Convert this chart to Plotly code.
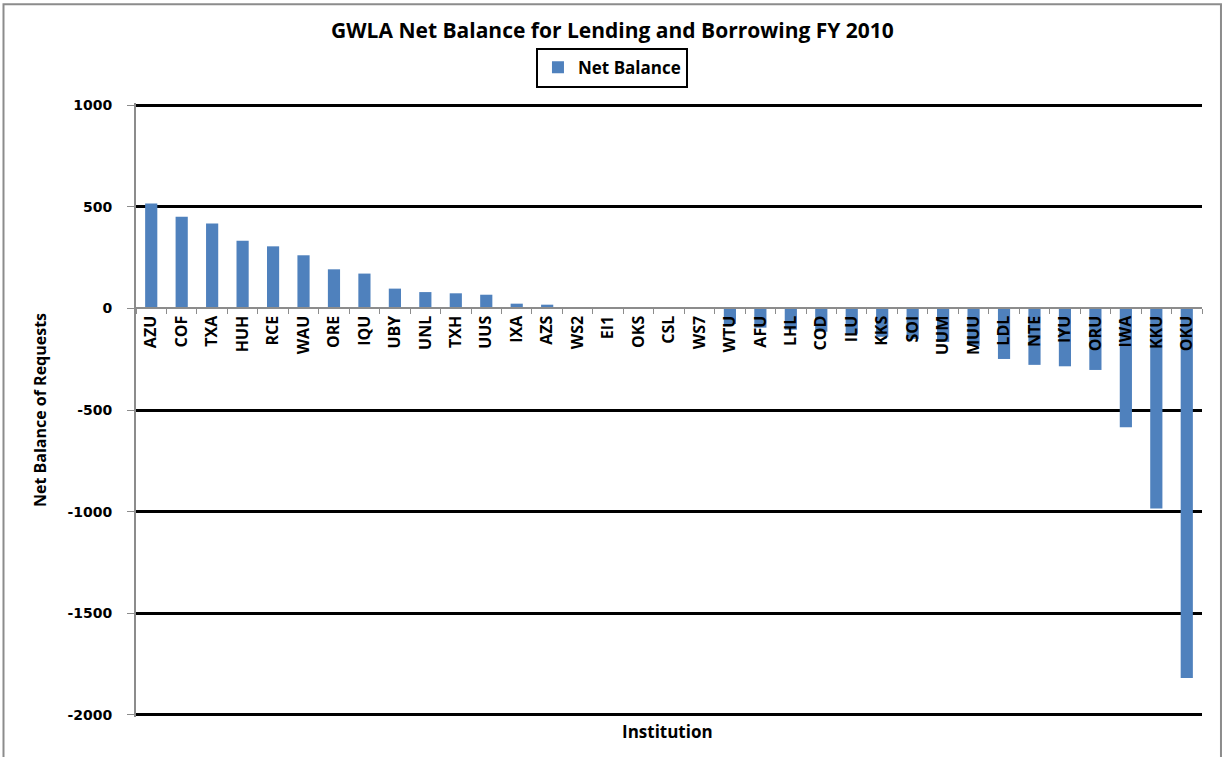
import plotly.graph_objects as go

# Net balance (lending minus borrowing) per institution, FY 2010
institutions = [
    'AZU', 'COF', 'TXA', 'HUH', 'RCE', 'WAU', 'ORE', 'IQU', 'UBY', 'UNL',
    'TXH', 'UUS', 'IXA', 'AZS', 'WS2', 'EI1', 'OKS', 'CSL', 'WS7', 'WTU',
    'AFU', 'LHL', 'COD', 'ILU', 'KKS', 'SOI', 'UUM', 'MUU', 'LDL', 'NTE',
    'IYU', 'ORU', 'IWA', 'KKU', 'OKU',
]
net_balance = [
    516, 451, 417, 333, 305, 261, 192, 171, 97, 80,
    74, 67, 23, 18, 6, 0, 0, 0, 0, -77,
    -95, -105, -115, -125, -140, -150, -165, -185, -249, -278,
    -285, -303, -585, -984, -1818,
]
y_ticks = [1000, 500, 0, -500, -1000, -1500, -2000]
grid_ticks = [1000, 500, -500, -1000, -1500, -2000]

BAR_COLOR = '#4F81BD'
LABEL_FONT = 'Open Sans'
NUM_FONT = 'DejaVu Sans'
# 10 units of padding (~2px) so plotly keeps the gridlines at 1000 / -2000
Y_RANGE = [-2010, 1010]


def create_net_balance_chart():
    """
    Build the Excel-style column chart of net balances.

    Returns:
    -------
    plotly.graph_objects.Figure
    """
    fig = go.Figure()

    fig.add_trace(go.Bar(
        x=institutions,
        y=net_balance,
        name='<b>Net Balance</b>',
        marker=dict(color=BAR_COLOR, line=dict(width=0)),
    ))

    # Empty trace so the overlay axis (black gridlines, none at zero) is drawn
    fig.add_trace(go.Scatter(
        x=[institutions[0]], y=[None], yaxis='y2',
        showlegend=False, hoverinfo='skip', mode='markers',
    ))

    fig.update_layout(
        width=1225,
        height=757,
        paper_bgcolor='white',
        plot_bgcolor='white',
        margin=dict(l=136, r=23, t=103, b=40, autoexpand=False),
        bargap=0.6,
        title=dict(
            text='<b>GWLA Net Balance for Lending and Borrowing FY 2010</b>',
            x=0.5, xanchor='center', y=0.96, yanchor='middle',
            font=dict(family=LABEL_FONT, size=21, color='black'),
        ),
        legend=dict(
            x=0.4465, xanchor='center', y=1.09, yanchor='top',
            orientation='h',
            bordercolor='black', borderwidth=2,
            bgcolor='white',
            font=dict(family=LABEL_FONT, size=17, color='black'),
        ),
        xaxis=dict(
            type='category',
            range=[-0.5, len(institutions) - 0.5],
            anchor='free',
            position=-Y_RANGE[0] / (Y_RANGE[1] - Y_RANGE[0]),
            automargin=False,
            showline=True, linecolor='#8c8c8c', linewidth=2,
            ticks='outside', tickson='boundaries', ticklen=5,
            tickcolor='#8c8c8c', tickwidth=1,
            tickangle=-90,
            tickvals=institutions,
            ticktext=['<b>' + name + '</b>' for name in institutions],
            tickfont=dict(family=LABEL_FONT, size=16, color='black'),
            showgrid=False,
            zeroline=False,
        ),
        yaxis=dict(
            range=Y_RANGE,
            automargin=False,
            tickvals=y_ticks,
            ticktext=['<b>' + str(v) + '</b>' for v in y_ticks],
            showline=True, linecolor='#8c8c8c', linewidth=2,
            ticks='outside', ticklen=7, tickcolor='#8c8c8c', tickwidth=1,
            ticklabelstandoff=12,
            tickfont=dict(family=NUM_FONT, size=14, color='black'),
            showgrid=False,
            zeroline=False,
        ),
        yaxis2=dict(
            range=Y_RANGE,
            overlaying='y',
            automargin=False,
            tickvals=grid_ticks,
            showticklabels=False,
            showgrid=True, gridcolor='black', gridwidth=3,
            zeroline=False,
            showline=False,
        ),
        annotations=[
            dict(
                text='<b>Net Balance of Requests</b>',
                x=-0.090, y=0.5, xref='paper', yref='paper',
                xanchor='center', yanchor='middle',
                textangle=-90, showarrow=False,
                font=dict(family=LABEL_FONT, size=16, color='black'),
            ),
            dict(
                text='<b>Institution</b>',
                x=0.499, y=-0.024, xref='paper', yref='paper',
                xanchor='center', yanchor='middle', showarrow=False,
                font=dict(family=LABEL_FONT, size=17, color='black'),
            ),
        ],
        shapes=[
            # outer chart border
            dict(
                type='rect', xref='paper', yref='paper',
                x0=-0.1243, x1=1.0178, y0=-0.08, y1=1.161,
                line=dict(color='#8c8c8c', width=2),
                fillcolor='rgba(0,0,0,0)',
                layer='below',
            ),
        ],
    )
    return fig


fig = create_net_balance_chart()
# the page body has a default 8px margin; drop it so the chart sits at 0,0
fig.write_html(
    'out.html',
    config={'displayModeBar': False},
    post_script="document.body.style.margin = '0';",
)
